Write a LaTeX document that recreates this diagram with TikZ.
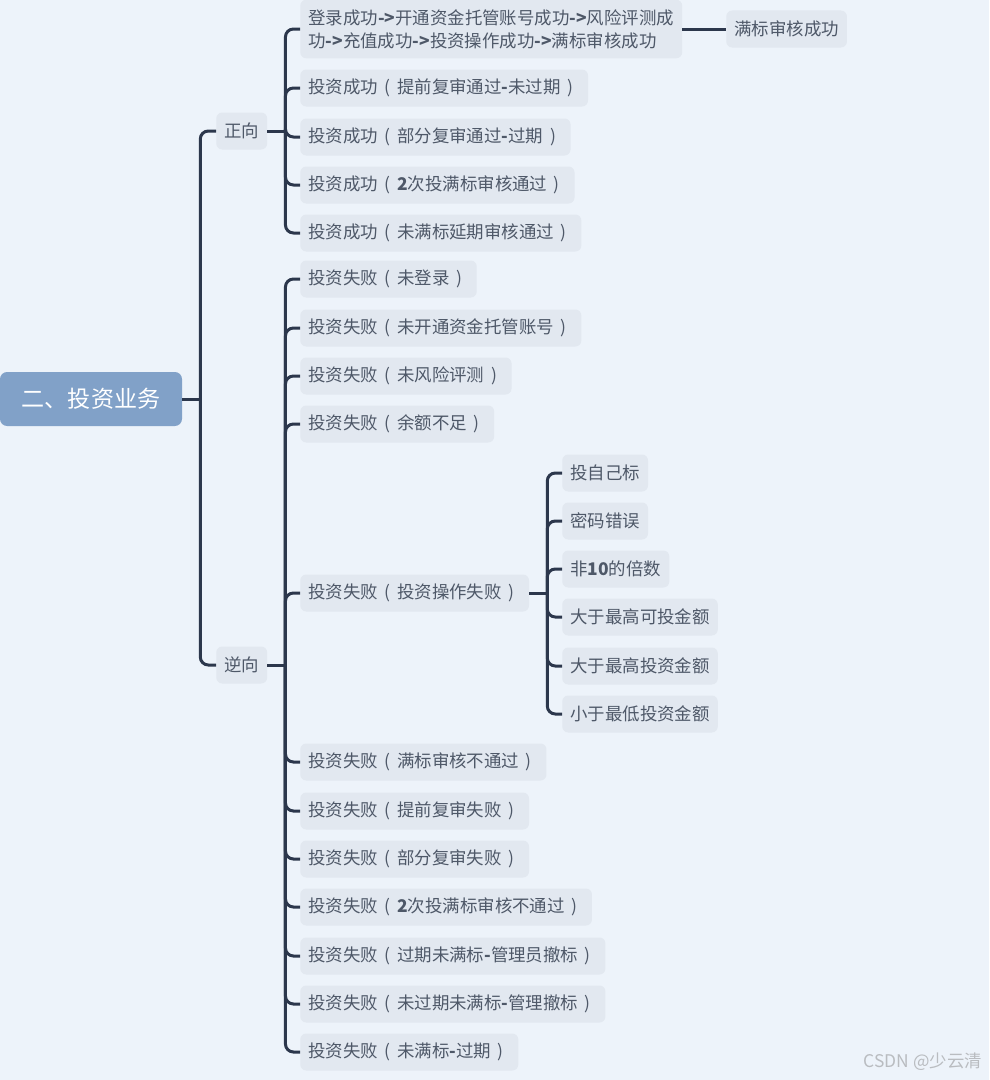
\documentclass[tikz,border=0pt]{standalone}
\usepackage{fontspec}
\setmainfont{Noto Sans CJK SC}
\usetikzlibrary{positioning}

\definecolor{bgblue}{RGB}{237,243,250}
\definecolor{boxgray}{RGB}{226,232,240}
\definecolor{textgray}{RGB}{78,88,104}
\definecolor{linenavy}{RGB}{44,55,76}
\definecolor{rootblue}{RGB}{129,161,200}
\definecolor{markgray}{RGB}{185,188,192}

% Latin runs in the labels look a little heavier
\newcommand{\lat}[1]{\textbf{#1}}
% centred full-width brackets
\newcommand{\lpar}{\makebox[1.1em]{(}}
\newcommand{\rpar}{\makebox[1.1em]{)}}

\begin{document}
\begin{tikzpicture}[
    x=0.025cm,
    y=-0.025cm,
    root/.style={
        fill=rootblue,
        rounded corners=0.18cm,
        text=white,
        font=\fontsize{16.4}{20}\selectfont,
        minimum width=4.55cm,
        minimum height=1.35cm,
    },
    topic/.style={
        fill=boxgray,
        rounded corners=0.15cm,
        text=textgray,
        font=\fontsize{12.4}{16.4}\selectfont,
        inner xsep=0.2cm,
        minimum height=0.925cm,
        anchor=west,
    },
    item/.style={
        topic,
    },
    link/.style={
        draw=linenavy,
        line width=0.075cm,
        rounded corners=0.2cm,
    },
]

    \fill[bgblue] (0,0) rectangle (989,1080);
    \useasboundingbox (0,0) rectangle (989,1080);

    \node[root] (root) at (91,399) {二、投资业务};
    \node[topic] (pos) at (216,131) {正向};
    \node[topic] (neg) at (216,665) {逆向};

    % 正向
    \node[item, align=left, inner ysep=0.24cm] (pos1) at (300,29) {登录成功\lat{->}开通资金托管账号成功\lat{->}风险评测成\\功\lat{->}充值成功\lat{->}投资操作成功\lat{->}满标审核成功};
    \node[item] (pos1_done) at (726,29) {满标审核成功};
    \node[item] (pos2) at (300,88) {投资成功\lpar 提前复审通过\lat{-}未过期\rpar};
    \node[item] (pos3) at (300,137) {投资成功\lpar 部分复审通过\lat{-}过期\rpar};
    \node[item] (pos4) at (300,185) {投资成功\lpar\lat{2}次投满标审核通过\rpar};
    \node[item] (pos5) at (300,233) {投资成功\lpar 未满标延期审核通过\rpar};

    % 逆向
    \node[item] (neg1) at (300,279) {投资失败\lpar 未登录\rpar};
    \node[item] (neg2) at (300,328) {投资失败\lpar 未开通资金托管账号\rpar};
    \node[item] (neg3) at (300,376) {投资失败\lpar 未风险评测\rpar};
    \node[item] (neg4) at (300,424) {投资失败\lpar 余额不足\rpar};
    \node[item] (neg5) at (300,593) {投资失败\lpar 投资操作失败\rpar};
    \node[item] (neg6) at (300,762) {投资失败\lpar 满标审核不通过\rpar};
    \node[item] (neg7) at (300,811) {投资失败\lpar 提前复审失败\rpar};
    \node[item] (neg8) at (300,859) {投资失败\lpar 部分复审失败\rpar};
    \node[item] (neg9) at (300,907) {投资失败\lpar\lat{2}次投满标审核不通过\rpar};
    \node[item] (neg10) at (300,956) {投资失败\lpar 过期未满标\lat{-}管理员撤标\rpar};
    \node[item] (neg11) at (300,1004) {投资失败\lpar 未过期未满标\lat{-}管理撤标\rpar};
    \node[item] (neg12) at (300,1052) {投资失败\lpar 未满标\lat{-}过期\rpar};

    % 投资操作失败
    \node[item] (op1) at (562,473) {投自己标};
    \node[item] (op2) at (562,521) {密码错误};
    \node[item] (op3) at (562,569) {非\lat{10}的倍数};
    \node[item] (op4) at (562,617) {大于最高可投金额};
    \node[item] (op5) at (562,666) {大于最高投资金额};
    \node[item] (op6) at (562,714) {小于最低投资金额};

    \node[anchor=east, text=markgray, font=\fontsize{12.4}{15}\selectfont] (mark) at (987,1062) {CSDN @少云清};

    % Draw connectors
    \coordinate[right=0.45cm of root.east] (j_root);
    \coordinate[right=0.45cm of pos.east] (j_pos);
    \coordinate[right=0.45cm of neg.east] (j_neg);
    \coordinate[right=0.45cm of neg5.east] (j_op);

    \draw[link] (root.east) -- (j_root);
    \draw[link] (j_root) |- (pos.west);
    \draw[link] (j_root) |- (neg.west);

    \draw[link] (pos.east) -- (j_pos);
    \draw[link] (j_pos) |- (pos1.west);
    \draw[link] (j_pos) |- (pos2.west);
    \draw[link] (j_pos) |- (pos3.west);
    \draw[link] (j_pos) |- (pos4.west);
    \draw[link] (j_pos) |- (pos5.west);
    \draw[link] (pos1.east) -- (pos1_done.west);

    \draw[link] (neg.east) -- (j_neg);
    \draw[link] (j_neg) |- (neg1.west);
    \draw[link] (j_neg) |- (neg2.west);
    \draw[link] (j_neg) |- (neg3.west);
    \draw[link] (j_neg) |- (neg4.west);
    \draw[link] (j_neg) |- (neg5.west);
    \draw[link] (j_neg) |- (neg6.west);
    \draw[link] (j_neg) |- (neg7.west);
    \draw[link] (j_neg) |- (neg8.west);
    \draw[link] (j_neg) |- (neg9.west);
    \draw[link] (j_neg) |- (neg10.west);
    \draw[link] (j_neg) |- (neg11.west);
    \draw[link] (j_neg) |- (neg12.west);

    \draw[link] (neg5.east) -- (j_op);
    \draw[link] (j_op) |- (op1.west);
    \draw[link] (j_op) |- (op2.west);
    \draw[link] (j_op) |- (op3.west);
    \draw[link] (j_op) |- (op4.west);
    \draw[link] (j_op) |- (op5.west);
    \draw[link] (j_op) |- (op6.west);

\end{tikzpicture}
\end{document}
